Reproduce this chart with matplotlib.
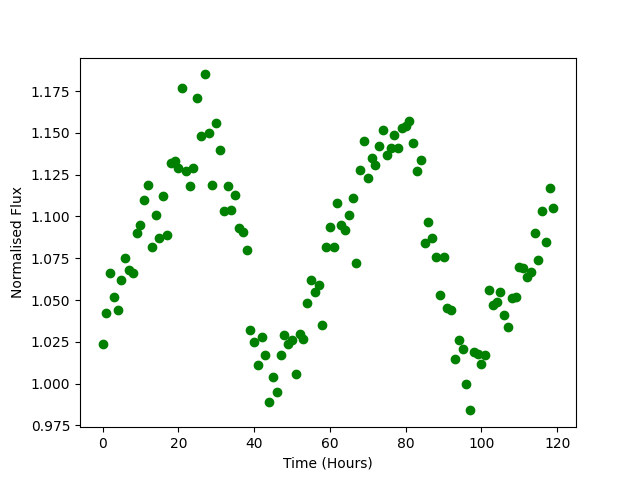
import matplotlib
matplotlib.use("Agg")
import matplotlib.pyplot as plt
import numpy as np

hours = list(range(120))
flux = [
    1.024, 1.042, 1.066, 1.052, 1.044, 1.062, 1.075, 1.068, 1.066, 1.090,
    1.095, 1.110, 1.119, 1.082, 1.101, 1.087, 1.112, 1.089, 1.132, 1.133,
    1.129, 1.177, 1.127, 1.118, 1.129, 1.171, 1.148, 1.185, 1.150, 1.119,
    1.156, 1.140, 1.103, 1.118, 1.104, 1.113, 1.093, 1.091, 1.080, 1.032,
    1.025, 1.011, 1.028, 1.017, 0.989, 1.004, 0.995, 1.017, 1.029, 1.024,
    1.026, 1.006, 1.030, 1.027, 1.048, 1.062, 1.055, 1.059, 1.035, 1.082,
    1.094, 1.082, 1.108, 1.095, 1.092, 1.101, 1.111, 1.072, 1.128, 1.145,
    1.123, 1.135, 1.131, 1.142, 1.152, 1.137, 1.141, 1.149, 1.141, 1.153,
    1.154, 1.157, 1.144, 1.127, 1.134, 1.084, 1.097, 1.087, 1.076, 1.053,
    1.076, 1.045, 1.044, 1.015, 1.026, 1.021, 1.000, 0.984, 1.019, 1.018,
    1.012, 1.017, 1.056, 1.047, 1.049, 1.055, 1.041, 1.034, 1.051, 1.052,
    1.070, 1.069, 1.064, 1.067, 1.090, 1.074, 1.103, 1.085, 1.117, 1.105,
]

fig, ax = plt.subplots(figsize=(6.4, 4.8), dpi=100)
ax.plot(hours, flux, 'o', color='green')
ax.set_xlabel("Time (Hours)")
ax.set_ylabel("Normalised Flux")
fig.savefig("out.png")
